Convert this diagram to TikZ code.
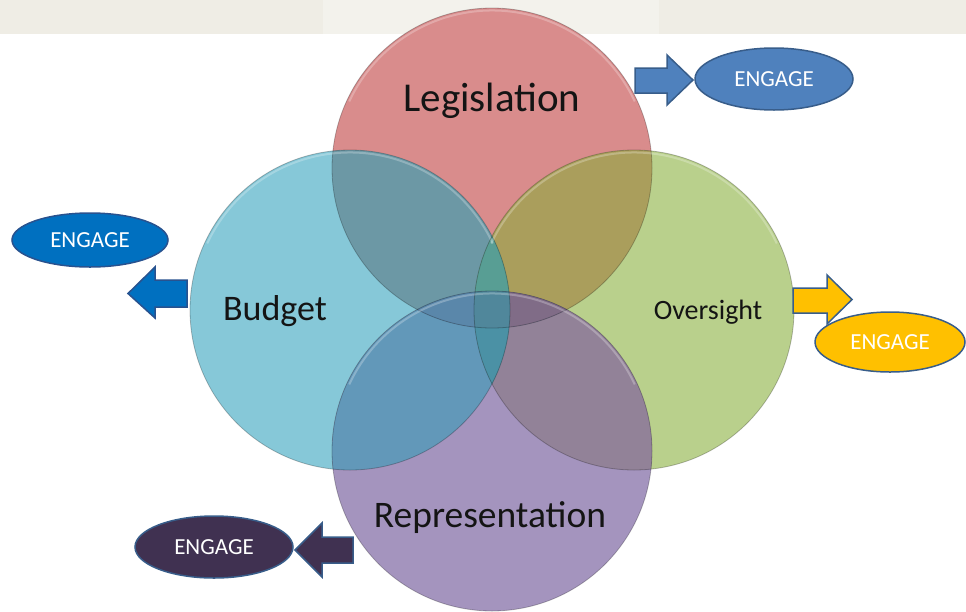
\documentclass[tikz,border=0pt]{standalone}
\usepackage{fontspec}
\setmainfont{Carlito}
\usetikzlibrary{shapes.geometric}
\definecolor{bandout}{RGB}{239,237,229}
\definecolor{bandin}{RGB}{243,242,236}
\definecolor{cL}{RGB}{217,140,140}
\definecolor{cB}{RGB}{134,200,216}
\definecolor{cO}{RGB}{185,208,140}
\definecolor{cR}{RGB}{164,148,190}
\definecolor{cLB}{RGB}{108,152,165}
\definecolor{cLO}{RGB}{170,158,92}
\definecolor{cBR}{RGB}{98,152,185}
\definecolor{cOR}{RGB}{146,130,152}
\definecolor{cBO}{RGB}{85,150,160}
\definecolor{cLR}{RGB}{100,120,150}
\definecolor{cLBO}{RGB}{88,158,148}
\definecolor{cLBR}{RGB}{90,135,170}
\definecolor{cLOR}{RGB}{128,108,135}
\definecolor{cBOR}{RGB}{75,145,165}
\definecolor{cLBOR}{RGB}{80,135,155}
\definecolor{eblue}{RGB}{79,129,189}
\definecolor{eborder}{RGB}{56,93,138}
\definecolor{edeep}{RGB}{0,112,192}
\definecolor{edeepb}{RGB}{40,82,143}
\definecolor{eyellow}{RGB}{255,192,0}
\definecolor{epurple}{RGB}{64,49,81}
\definecolor{txt}{RGB}{20,20,20}
\tikzset{
  rim/.style={draw=black, draw opacity=0.25, line width=0.8pt},
  gloss/.style={draw=white, draw opacity=0.25, line width=2pt},
  label/.style={font=\fontsize{#1}{#1}\selectfont, text=txt, inner sep=0pt},
  engage/.style={ellipse, draw=eborder, line width=1.5pt, inner sep=0pt,
    text=white, font=\fontsize{23}{23}\selectfont},
  blockarrow/.style={line width=1.5pt, line join=miter},
}
\begin{document}
\begin{tikzpicture}[x=1pt, y=-1pt]
\useasboundingbox (0,0) rectangle (966,611);
% top band
\fill[bandout] (0,0) rectangle (966,34);
\fill[bandin] (323,0) rectangle (659,34);
% circle centres
\coordinate (L) at (492,168);
\coordinate (B) at (350,310);
\coordinate (O) at (634,310);
\coordinate (R) at (492,451);
\def\rr{160}
% base circles
\fill[cL] (L) circle[radius=\rr];
\fill[cB] (B) circle[radius=\rr];
\fill[cO] (O) circle[radius=\rr];
\fill[cR] (R) circle[radius=\rr];
% pair overlaps
\begin{scope}\clip (L) circle[radius=\rr]; \fill[cLB] (B) circle[radius=\rr];\end{scope}
\begin{scope}\clip (L) circle[radius=\rr]; \fill[cLO] (O) circle[radius=\rr];\end{scope}
\begin{scope}\clip (B) circle[radius=\rr]; \fill[cBR] (R) circle[radius=\rr];\end{scope}
\begin{scope}\clip (O) circle[radius=\rr]; \fill[cOR] (R) circle[radius=\rr];\end{scope}
\begin{scope}\clip (B) circle[radius=\rr]; \fill[cBO] (O) circle[radius=\rr];\end{scope}
\begin{scope}\clip (L) circle[radius=\rr]; \fill[cLR] (R) circle[radius=\rr];\end{scope}
% triple overlaps
\begin{scope}\clip (L) circle[radius=\rr]; \clip (B) circle[radius=\rr]; \fill[cLBO] (O) circle[radius=\rr];\end{scope}
\begin{scope}\clip (L) circle[radius=\rr]; \clip (B) circle[radius=\rr]; \fill[cLBR] (R) circle[radius=\rr];\end{scope}
\begin{scope}\clip (L) circle[radius=\rr]; \clip (O) circle[radius=\rr]; \fill[cLOR] (R) circle[radius=\rr];\end{scope}
\begin{scope}\clip (B) circle[radius=\rr]; \clip (O) circle[radius=\rr]; \fill[cBOR] (R) circle[radius=\rr];\end{scope}
% quadruple overlap
\begin{scope}\clip (L) circle[radius=\rr]; \clip (B) circle[radius=\rr]; \clip (O) circle[radius=\rr]; \fill[cLBOR] (R) circle[radius=\rr];\end{scope}
% gloss and rims
\foreach \c in {L,B,O,R}{
  \draw[gloss] (\c) ++(205:157.5) arc[start angle=205, end angle=335, radius=157.5];
  \draw[rim] (\c) circle[radius=\rr];
}
% circle labels
\node[label=41] (leg) at (492,101) {Legislation};
\node[label=36] (bud) at (275,311) {Budget};
\node[label=28] (ovs) at (708,312) {Oversight};
\node[label=37.5] (rep) at (490,518) {Representation};
% ENGAGE ellipses
\node[engage, fill=eblue, minimum width=158pt, minimum height=62pt] (e1) at (774,79) {ENGAGE};
\node[engage, fill=edeep, draw=edeepb, minimum width=156pt, minimum height=54pt] (e2) at (90,240) {ENGAGE};
\node[engage, fill=eyellow, minimum width=150pt, minimum height=60pt] (e3) at (890,342) {ENGAGE};
\node[engage, fill=epurple, minimum width=158pt, minimum height=62pt] (e4) at (214,547) {ENGAGE};
% block arrows
\draw[blockarrow, fill=eblue, draw=eborder] (635,68) -- (667,68) -- (667,55) -- (693,80) -- (667,105) -- (667,93) -- (635,93) -- cycle;
\draw[blockarrow, fill=edeep, draw=edeepb] (187,280) -- (155,280) -- (155,267) -- (128,293.5) -- (155,318) -- (155,307) -- (187,307) -- cycle;
\draw[blockarrow, fill=eyellow, draw=eborder] (793,288) -- (827,288) -- (827,275) -- (852,299.5) -- (827,324) -- (827,313) -- (793,313) -- cycle;
\draw[blockarrow, fill=epurple, draw=eborder] (353,537) -- (322,537) -- (322,523) -- (295,550) -- (322,577) -- (322,563) -- (353,563) -- cycle;
\end{tikzpicture}
\end{document}
